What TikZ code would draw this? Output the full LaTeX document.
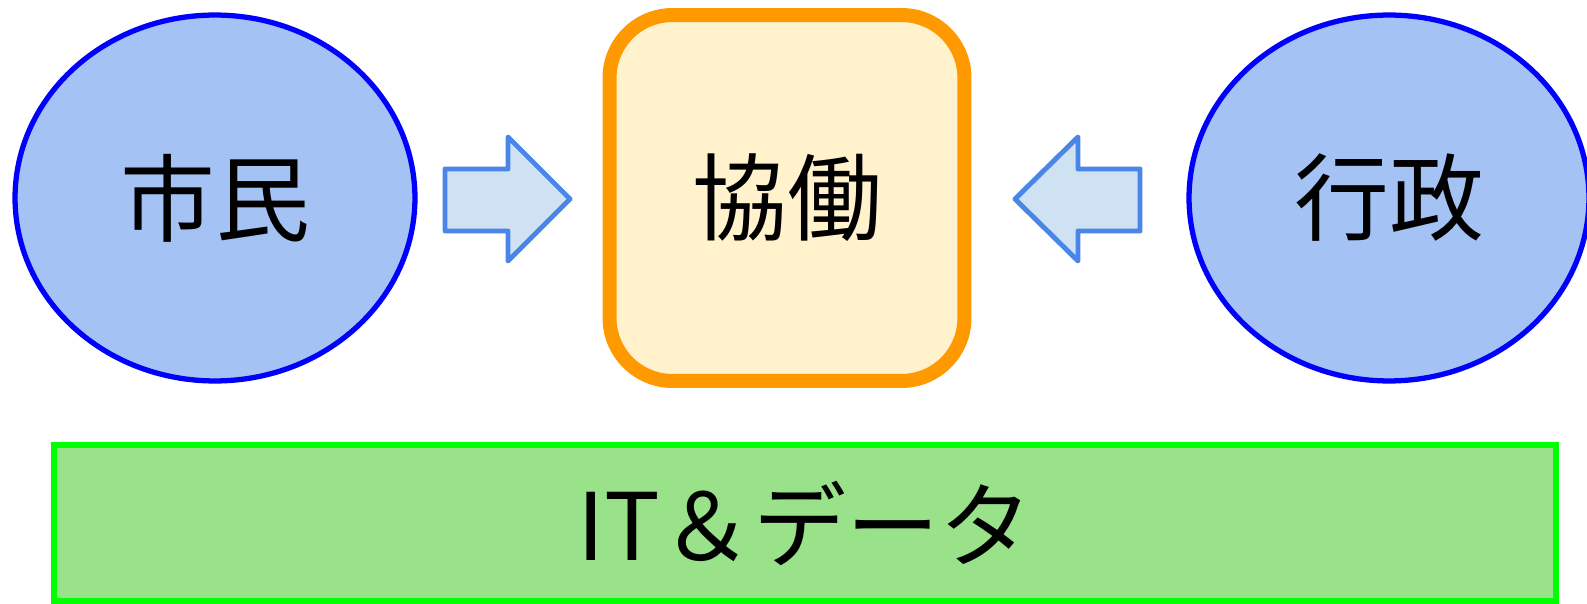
\documentclass[tikz,border=0pt]{standalone}
\usepackage{fontspec}
\setmainfont{Noto Sans CJK JP}
\usetikzlibrary{shapes.geometric}
\definecolor{bubblefill}{HTML}{A4C2F4}
\definecolor{bubbleline}{HTML}{0000FF}
\definecolor{coopfill}{HTML}{FFF2CC}
\definecolor{coopline}{HTML}{FF9900}
\definecolor{basefill}{HTML}{99E28A}
\definecolor{baseline}{HTML}{00FF00}
\definecolor{arrowfill}{HTML}{CFE2F3}
\definecolor{arrowline}{HTML}{4A86E8}
\tikzset{
	bubble/.style={ellipse, draw=bubbleline, fill=bubblefill, line width=3pt, minimum width=8cm, minimum height=7.32cm, font=\fontsize{54}{64}\selectfont},
	coop/.style={rectangle, rounded corners=1.26cm, draw=coopline, fill=coopfill, line width=8pt, minimum width=7.1cm, minimum height=7.32cm, font=\fontsize{54}{64}\selectfont},
	base/.style={rectangle, draw=baseline, fill=basefill, line width=3.4pt, minimum width=30.04cm, minimum height=3.12cm, font=\fontsize{53}{63}\selectfont},
	blockarrow/.style={draw=arrowline, fill=arrowfill, line width=2.8pt, line join=round}
}
\begin{document}
\begin{tikzpicture}[x=0.02cm, y=-0.02cm]
				\useasboundingbox (0,0) rectangle (1587,604);
				\node[bubble] (citizen) at (215,198) {市民};
				\node[coop] (coop) at (787,198) {協働};
				\node[bubble] (admin) at (1389,198) {行政};
				\node[base] (itdata) at (805,523) {IT＆データ};
				% block arrows towards the centre
				\draw[blockarrow] (445,169) -- (508,169) -- (508,137) -- (570,199) -- (508,261) -- (508,231) -- (445,231) -- cycle;
				\draw[blockarrow] (1140,169) -- (1078,169) -- (1078,137) -- (1015,199) -- (1078,261) -- (1078,231) -- (1140,231) -- cycle;
			\end{tikzpicture}
\end{document}
